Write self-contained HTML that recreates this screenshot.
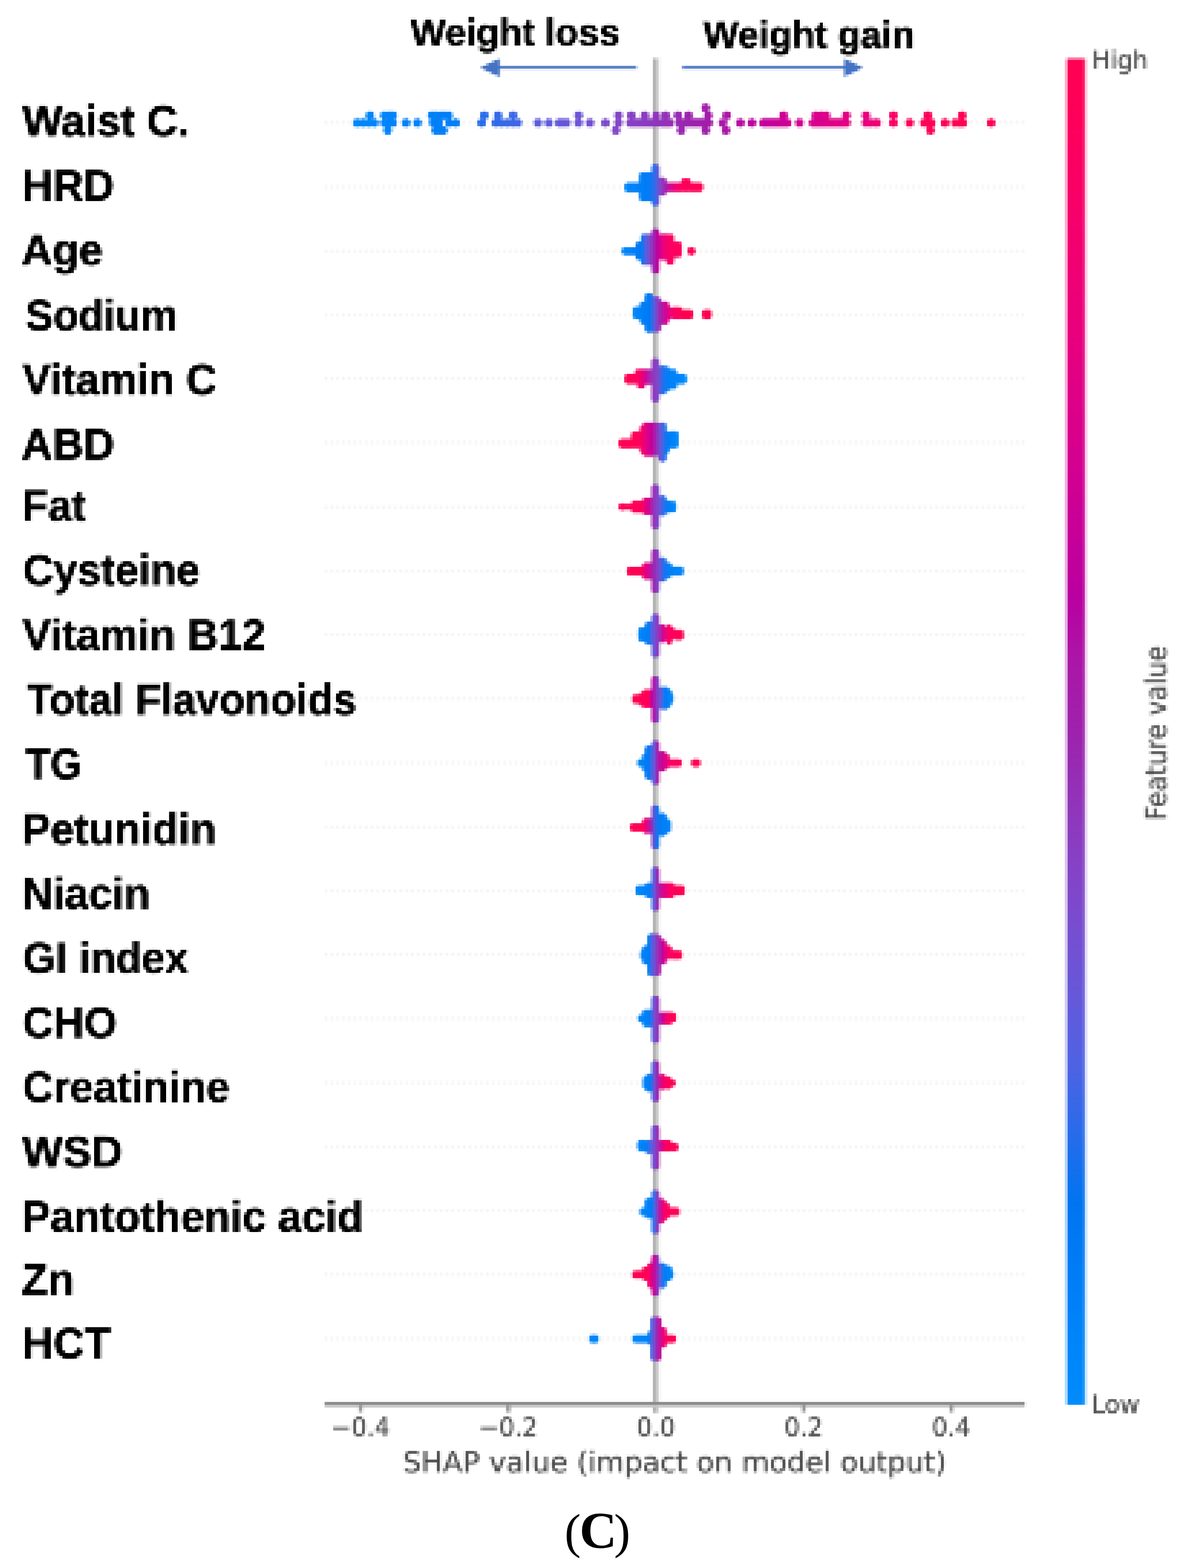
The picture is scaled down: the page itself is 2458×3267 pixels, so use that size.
<!DOCTYPE html>
<html lang="en"><head><meta charset="utf-8"><title>SHAP summary plot (C)</title>
<style>
html,body{margin:0;padding:0;background:#fff;}
body{width:2458px;height:3267px;overflow:hidden;}
svg{display:block;}
.lab{font-family:'Liberation Sans', sans-serif;font-weight:700;fill:#000;}
.mpl{font-family:'DejaVu Sans', 'Liberation Sans', sans-serif;fill:#4a4a4a;}
.cap{font-family:'Liberation Serif', serif;fill:#000;}
</style></head><body>
<svg width="2458" height="3267" viewBox="0 0 2458 3267">
<rect width="2458" height="3267" fill="#fff"/>
<defs><filter id="pxg" filterUnits="userSpaceOnUse" primitiveUnits="userSpaceOnUse" x="0" y="0" width="2458" height="3108" color-interpolation-filters="sRGB"><feGaussianBlur in="SourceGraphic" stdDeviation="1.7" result="b"/><feFlood x="6" y="7" width="2" height="2" flood-color="#000" result="dot"/><feComposite in="dot" in2="dot" operator="over" x="4" y="5" width="6" height="6" result="cell"/><feTile in="cell" result="grid"/><feComposite in="b" in2="grid" operator="in" result="samp"/><feMorphology in="samp" operator="dilate" radius="2"/></filter><filter id="pxm" filterUnits="userSpaceOnUse" primitiveUnits="userSpaceOnUse" x="0" y="0" width="2458" height="3108" color-interpolation-filters="sRGB"><feGaussianBlur in="SourceGraphic" stdDeviation="1.7" result="b"/><feFlood x="6" y="7" width="2" height="2" flood-color="#000" result="dot"/><feComposite in="dot" in2="dot" operator="over" x="4" y="5" width="6" height="6" result="cell"/><feTile in="cell" result="grid"/><feComposite in="b" in2="grid" operator="in" result="samp"/><feMorphology in="samp" operator="dilate" radius="2"/></filter><filter id="pxl" filterUnits="userSpaceOnUse" primitiveUnits="userSpaceOnUse" x="0" y="0" width="2458" height="3108" color-interpolation-filters="sRGB"><feGaussianBlur in="SourceGraphic" stdDeviation="1.0" result="b"/><feFlood x="6" y="7" width="2" height="2" flood-color="#000" result="dot"/><feComposite in="dot" in2="dot" operator="over" x="4" y="5" width="6" height="6" result="cell"/><feTile in="cell" result="grid"/><feComposite in="b" in2="grid" operator="in" result="samp"/><feMorphology in="samp" operator="dilate" radius="2"/></filter><linearGradient id="g1" gradientUnits="userSpaceOnUse" x1="1301.4" x2="1464.5" y1="0" y2="0"><stop offset="0.000" stop-color="#0086fa"/><stop offset="0.304" stop-color="#007cf5"/><stop offset="0.392" stop-color="#3968e7"/><stop offset="0.459" stop-color="#8542c5"/><stop offset="0.536" stop-color="#aa17a7"/><stop offset="0.624" stop-color="#e9007c"/><stop offset="0.735" stop-color="#fe005c"/><stop offset="1.000" stop-color="#ff0051"/></linearGradient><linearGradient id="g2" gradientUnits="userSpaceOnUse" x1="1295.1" x2="1448.3" y1="0" y2="0"><stop offset="0.000" stop-color="#0086fa"/><stop offset="0.271" stop-color="#0079f3"/><stop offset="0.341" stop-color="#6459da"/><stop offset="0.412" stop-color="#9233b9"/><stop offset="0.482" stop-color="#b900a0"/><stop offset="0.553" stop-color="#e50080"/><stop offset="0.647" stop-color="#fb0063"/><stop offset="1.000" stop-color="#ff0051"/></linearGradient><linearGradient id="g3" gradientUnits="userSpaceOnUse" x1="1318.5" x2="1482.6" y1="0" y2="0"><stop offset="0.000" stop-color="#0088fa"/><stop offset="0.220" stop-color="#0079f3"/><stop offset="0.286" stop-color="#764ed0"/><stop offset="0.352" stop-color="#a01fab"/><stop offset="0.429" stop-color="#d9008c"/><stop offset="0.516" stop-color="#f80067"/><stop offset="0.626" stop-color="#ff0051"/><stop offset="1.000" stop-color="#ff0051"/></linearGradient><linearGradient id="g4" gradientUnits="userSpaceOnUse" x1="1301.4" x2="1430.3" y1="0" y2="0"><stop offset="0.000" stop-color="#ff0051"/><stop offset="0.217" stop-color="#fe005c"/><stop offset="0.329" stop-color="#d40090"/><stop offset="0.441" stop-color="#9233b9"/><stop offset="0.538" stop-color="#8047c9"/><stop offset="0.608" stop-color="#266cea"/><stop offset="0.692" stop-color="#007ff7"/><stop offset="1.000" stop-color="#008bfb"/></linearGradient><linearGradient id="g5" gradientUnits="userSpaceOnUse" x1="1288.8" x2="1413.2" y1="0" y2="0"><stop offset="0.000" stop-color="#ff0051"/><stop offset="0.341" stop-color="#ff0058"/><stop offset="0.442" stop-color="#e9007c"/><stop offset="0.558" stop-color="#bf009d"/><stop offset="0.645" stop-color="#9233b9"/><stop offset="0.717" stop-color="#575fdf"/><stop offset="0.804" stop-color="#0079f3"/><stop offset="1.000" stop-color="#008bfb"/></linearGradient><linearGradient id="g6" gradientUnits="userSpaceOnUse" x1="1288.8" x2="1408.6" y1="0" y2="0"><stop offset="0.000" stop-color="#ff0051"/><stop offset="0.398" stop-color="#fe005c"/><stop offset="0.519" stop-color="#cf0093"/><stop offset="0.609" stop-color="#9233b9"/><stop offset="0.699" stop-color="#794cce"/><stop offset="0.759" stop-color="#3968e7"/><stop offset="0.850" stop-color="#007cf5"/><stop offset="1.000" stop-color="#008bfb"/></linearGradient><linearGradient id="g7" gradientUnits="userSpaceOnUse" x1="1305.9" x2="1424.0" y1="0" y2="0"><stop offset="0.000" stop-color="#ff0051"/><stop offset="0.244" stop-color="#ff0058"/><stop offset="0.351" stop-color="#df0086"/><stop offset="0.458" stop-color="#9d22ac"/><stop offset="0.565" stop-color="#8047c9"/><stop offset="0.641" stop-color="#266cea"/><stop offset="0.733" stop-color="#007ff7"/><stop offset="1.000" stop-color="#0088fa"/></linearGradient><linearGradient id="g8" gradientUnits="userSpaceOnUse" x1="1329.3" x2="1424.0" y1="0" y2="0"><stop offset="0.000" stop-color="#0088fa"/><stop offset="0.229" stop-color="#007cf5"/><stop offset="0.324" stop-color="#6459da"/><stop offset="0.457" stop-color="#9233b9"/><stop offset="0.552" stop-color="#d40090"/><stop offset="0.686" stop-color="#fe005c"/><stop offset="1.000" stop-color="#ff0051"/></linearGradient><linearGradient id="g9" gradientUnits="userSpaceOnUse" x1="1316.7" x2="1403.2" y1="0" y2="0"><stop offset="0.000" stop-color="#ff0051"/><stop offset="0.396" stop-color="#ff0058"/><stop offset="0.479" stop-color="#b900a0"/><stop offset="0.583" stop-color="#9233b9"/><stop offset="0.688" stop-color="#6459da"/><stop offset="0.792" stop-color="#007cf5"/><stop offset="1.000" stop-color="#0088fa"/></linearGradient><linearGradient id="g10" gradientUnits="userSpaceOnUse" x1="1327.5" x2="1459.1" y1="0" y2="0"><stop offset="0.000" stop-color="#0088fa"/><stop offset="0.178" stop-color="#0079f3"/><stop offset="0.260" stop-color="#6459da"/><stop offset="0.329" stop-color="#aa17a7"/><stop offset="0.425" stop-color="#d40090"/><stop offset="0.521" stop-color="#fb0063"/><stop offset="1.000" stop-color="#ff0051"/></linearGradient><linearGradient id="g11" gradientUnits="userSpaceOnUse" x1="1312.2" x2="1397.8" y1="0" y2="0"><stop offset="0.000" stop-color="#ff0051"/><stop offset="0.326" stop-color="#ff0058"/><stop offset="0.411" stop-color="#df0086"/><stop offset="0.516" stop-color="#9d22ac"/><stop offset="0.621" stop-color="#266cea"/><stop offset="0.747" stop-color="#007cf5"/><stop offset="1.000" stop-color="#0086fa"/></linearGradient><linearGradient id="g12" gradientUnits="userSpaceOnUse" x1="1323.9" x2="1426.7" y1="0" y2="0"><stop offset="0.000" stop-color="#0088fa"/><stop offset="0.298" stop-color="#007cf5"/><stop offset="0.368" stop-color="#6459da"/><stop offset="0.456" stop-color="#9d22ac"/><stop offset="0.579" stop-color="#df0086"/><stop offset="0.719" stop-color="#fe005c"/><stop offset="1.000" stop-color="#ff0051"/></linearGradient><linearGradient id="g13" gradientUnits="userSpaceOnUse" x1="1333.8" x2="1421.3" y1="0" y2="0"><stop offset="0.000" stop-color="#0086fa"/><stop offset="0.216" stop-color="#0079f3"/><stop offset="0.299" stop-color="#6459da"/><stop offset="0.402" stop-color="#9233b9"/><stop offset="0.546" stop-color="#c70098"/><stop offset="0.670" stop-color="#fb0063"/><stop offset="1.000" stop-color="#ff0051"/></linearGradient><linearGradient id="g14" gradientUnits="userSpaceOnUse" x1="1328.4" x2="1408.6" y1="0" y2="0"><stop offset="0.000" stop-color="#0088fa"/><stop offset="0.326" stop-color="#007cf5"/><stop offset="0.416" stop-color="#764ed0"/><stop offset="0.528" stop-color="#9233b9"/><stop offset="0.640" stop-color="#c70098"/><stop offset="0.798" stop-color="#fe005c"/><stop offset="1.000" stop-color="#ff0051"/></linearGradient><linearGradient id="g15" gradientUnits="userSpaceOnUse" x1="1339.2" x2="1406.8" y1="0" y2="0"><stop offset="0.000" stop-color="#0086fa"/><stop offset="0.253" stop-color="#0079f3"/><stop offset="0.333" stop-color="#764ed0"/><stop offset="0.467" stop-color="#9d22ac"/><stop offset="0.573" stop-color="#e9007c"/><stop offset="0.760" stop-color="#ff0058"/><stop offset="1.000" stop-color="#ff0051"/></linearGradient><linearGradient id="g16" gradientUnits="userSpaceOnUse" x1="1327.5" x2="1413.2" y1="0" y2="0"><stop offset="0.000" stop-color="#0088fa"/><stop offset="0.232" stop-color="#007cf5"/><stop offset="0.358" stop-color="#6459da"/><stop offset="0.484" stop-color="#9233b9"/><stop offset="0.589" stop-color="#d40090"/><stop offset="0.695" stop-color="#fe005c"/><stop offset="1.000" stop-color="#ff0051"/></linearGradient><linearGradient id="g17" gradientUnits="userSpaceOnUse" x1="1332.9" x2="1415.9" y1="0" y2="0"><stop offset="0.000" stop-color="#0088fa"/><stop offset="0.304" stop-color="#007cf5"/><stop offset="0.391" stop-color="#6459da"/><stop offset="0.478" stop-color="#9d22ac"/><stop offset="0.565" stop-color="#e9007c"/><stop offset="0.696" stop-color="#ff0058"/><stop offset="1.000" stop-color="#ff0051"/></linearGradient><linearGradient id="g18" gradientUnits="userSpaceOnUse" x1="1316.7" x2="1403.2" y1="0" y2="0"><stop offset="0.000" stop-color="#ff0051"/><stop offset="0.396" stop-color="#ff0058"/><stop offset="0.479" stop-color="#d40090"/><stop offset="0.583" stop-color="#aa17a7"/><stop offset="0.667" stop-color="#6459da"/><stop offset="0.771" stop-color="#007cf5"/><stop offset="1.000" stop-color="#0088fa"/></linearGradient><linearGradient id="g19" gradientUnits="userSpaceOnUse" x1="1226.9" x2="1247.4" y1="0" y2="0"><stop offset="0.000" stop-color="#0086fa"/><stop offset="1.000" stop-color="#0086fa"/></linearGradient><linearGradient id="g20" gradientUnits="userSpaceOnUse" x1="1317.1" x2="1408.4" y1="0" y2="0"><stop offset="0.000" stop-color="#0088fa"/><stop offset="0.382" stop-color="#007ff7"/><stop offset="0.487" stop-color="#764ed0"/><stop offset="0.592" stop-color="#aa17a7"/><stop offset="0.697" stop-color="#e9007c"/><stop offset="0.803" stop-color="#ff0058"/><stop offset="1.000" stop-color="#ff0051"/></linearGradient><linearGradient id="g21" gradientUnits="userSpaceOnUse" x1="736" x2="2072" y1="0" y2="0"><stop offset="0.0000" stop-color="#0086fa"/><stop offset="0.1602" stop-color="#007ef6"/><stop offset="0.1999" stop-color="#266cea"/><stop offset="0.2560" stop-color="#4066e6"/><stop offset="0.2874" stop-color="#5b5ddd"/><stop offset="0.3510" stop-color="#6c54d6"/><stop offset="0.4034" stop-color="#8047c9"/><stop offset="0.4521" stop-color="#8a3cc0"/><stop offset="0.5307" stop-color="#9d22ac"/><stop offset="0.5793" stop-color="#aa17a7"/><stop offset="0.6243" stop-color="#bf009d"/><stop offset="0.6766" stop-color="#cd0095"/><stop offset="0.7440" stop-color="#dd0088"/><stop offset="0.8076" stop-color="#e9007c"/><stop offset="0.8421" stop-color="#fb0063"/><stop offset="0.8713" stop-color="#ff0058"/><stop offset="1.0000" stop-color="#ff0051"/></linearGradient><linearGradient id="cb" x1="0" x2="0" y1="0" y2="1"><stop offset="0.000" stop-color="#ff0051"/><stop offset="0.050" stop-color="#fe005c"/><stop offset="0.100" stop-color="#f80067"/><stop offset="0.150" stop-color="#f10072"/><stop offset="0.200" stop-color="#e9007c"/><stop offset="0.250" stop-color="#df0086"/><stop offset="0.300" stop-color="#d40090"/><stop offset="0.350" stop-color="#c70098"/><stop offset="0.400" stop-color="#b900a0"/><stop offset="0.450" stop-color="#aa17a7"/><stop offset="0.500" stop-color="#9d22ac"/><stop offset="0.550" stop-color="#9233b9"/><stop offset="0.600" stop-color="#8542c5"/><stop offset="0.650" stop-color="#764ed0"/><stop offset="0.700" stop-color="#6459da"/><stop offset="0.750" stop-color="#4c63e3"/><stop offset="0.800" stop-color="#266cea"/><stop offset="0.850" stop-color="#0074f0"/><stop offset="0.900" stop-color="#007cf5"/><stop offset="0.950" stop-color="#0084f9"/><stop offset="1.000" stop-color="#008bfb"/></linearGradient></defs>
<g filter="url(#pxg)">
<line x1="677" x2="2135" y1="256.0" y2="256.0" stroke="#e4e4e4" stroke-width="6" stroke-dasharray="6 6" opacity="0.4"/>
<line x1="677" x2="2135" y1="389.3" y2="389.3" stroke="#e4e4e4" stroke-width="6" stroke-dasharray="6 6" opacity="0.4"/>
<line x1="677" x2="2135" y1="522.6" y2="522.6" stroke="#e4e4e4" stroke-width="6" stroke-dasharray="6 6" opacity="0.4"/>
<line x1="677" x2="2135" y1="656.0" y2="656.0" stroke="#e4e4e4" stroke-width="6" stroke-dasharray="6 6" opacity="0.4"/>
<line x1="677" x2="2135" y1="789.3" y2="789.3" stroke="#e4e4e4" stroke-width="6" stroke-dasharray="6 6" opacity="0.4"/>
<line x1="677" x2="2135" y1="922.6" y2="922.6" stroke="#e4e4e4" stroke-width="6" stroke-dasharray="6 6" opacity="0.4"/>
<line x1="677" x2="2135" y1="1055.9" y2="1055.9" stroke="#e4e4e4" stroke-width="6" stroke-dasharray="6 6" opacity="0.4"/>
<line x1="677" x2="2135" y1="1189.2" y2="1189.2" stroke="#e4e4e4" stroke-width="6" stroke-dasharray="6 6" opacity="0.4"/>
<line x1="677" x2="2135" y1="1322.6" y2="1322.6" stroke="#e4e4e4" stroke-width="6" stroke-dasharray="6 6" opacity="0.4"/>
<line x1="677" x2="2135" y1="1455.9" y2="1455.9" stroke="#e4e4e4" stroke-width="6" stroke-dasharray="6 6" opacity="0.4"/>
<line x1="677" x2="2135" y1="1589.2" y2="1589.2" stroke="#e4e4e4" stroke-width="6" stroke-dasharray="6 6" opacity="0.4"/>
<line x1="677" x2="2135" y1="1722.5" y2="1722.5" stroke="#e4e4e4" stroke-width="6" stroke-dasharray="6 6" opacity="0.4"/>
<line x1="677" x2="2135" y1="1855.8" y2="1855.8" stroke="#e4e4e4" stroke-width="6" stroke-dasharray="6 6" opacity="0.4"/>
<line x1="677" x2="2135" y1="1989.2" y2="1989.2" stroke="#e4e4e4" stroke-width="6" stroke-dasharray="6 6" opacity="0.4"/>
<line x1="677" x2="2135" y1="2122.5" y2="2122.5" stroke="#e4e4e4" stroke-width="6" stroke-dasharray="6 6" opacity="0.4"/>
<line x1="677" x2="2135" y1="2255.8" y2="2255.8" stroke="#e4e4e4" stroke-width="6" stroke-dasharray="6 6" opacity="0.4"/>
<line x1="677" x2="2135" y1="2389.1" y2="2389.1" stroke="#e4e4e4" stroke-width="6" stroke-dasharray="6 6" opacity="0.4"/>
<line x1="677" x2="2135" y1="2522.4" y2="2522.4" stroke="#e4e4e4" stroke-width="6" stroke-dasharray="6 6" opacity="0.4"/>
<line x1="677" x2="2135" y1="2655.8" y2="2655.8" stroke="#e4e4e4" stroke-width="6" stroke-dasharray="6 6" opacity="0.4"/>
<line x1="677" x2="2135" y1="2789.1" y2="2789.1" stroke="#e4e4e4" stroke-width="6" stroke-dasharray="6 6" opacity="0.4"/>
<rect x="1360" y="122" width="6" height="2821" fill="#b2b2b2"/>
<rect x="1366" y="122" width="5.5" height="2821" fill="#c9c9c9"/>
<rect x="1371.5" y="122" width="5" height="2821" fill="#f6f6f6"/>
<g fill="url(#g1)">
<rect x="1301.4" y="380.4" width="38.6" height="19.8" rx="7.0"/>
<rect x="1332.0" y="358.8" width="32.3" height="60.4" rx="7.0"/>
<rect x="1357.4" y="341.6" width="16.2" height="88.0" rx="7.0"/>
<rect x="1368.2" y="369.6" width="19.7" height="37.9" rx="7.0"/>
<rect x="1382.1" y="380.4" width="44.5" height="18.9" rx="7.0"/>
<rect x="1418.6" y="372.3" width="20.7" height="27.0" rx="7.0"/>
<rect x="1431.3" y="380.4" width="33.2" height="18.9" rx="7.0"/>
</g>
<g fill="url(#g2)">
<rect x="1295.1" y="515.6" width="34.3" height="15.3" rx="7.0"/>
<rect x="1323.9" y="503.9" width="18.8" height="37.9" rx="7.0"/>
<rect x="1334.7" y="487.7" width="29.6" height="64.9" rx="7.0"/>
<rect x="1357.4" y="475.9" width="16.2" height="94.6" rx="7.0"/>
<rect x="1368.2" y="487.7" width="27.7" height="54.1" rx="7.0"/>
<rect x="1387.9" y="487.7" width="16.2" height="64.0" rx="7.0"/>
<rect x="1396.1" y="503.9" width="24.2" height="32.4" rx="7.0"/>
<rect x="1432.1" y="515.6" width="16.2" height="15.3" rx="7.0"/>
</g>
<g fill="url(#g3)">
<rect x="1318.5" y="638.7" width="19.8" height="26.1" rx="7.0"/>
<rect x="1332.9" y="627.9" width="18.8" height="47.8" rx="7.0"/>
<rect x="1343.7" y="610.7" width="16.2" height="82.0" rx="7.0"/>
<rect x="1352.0" y="617.9" width="24.2" height="74.8" rx="7.0"/>
<rect x="1368.2" y="627.9" width="25.1" height="47.8" rx="7.0"/>
<rect x="1385.3" y="637.8" width="14.3" height="27.0" rx="7.0"/>
<rect x="1396.5" y="639.6" width="24.8" height="25.2" rx="7.0"/>
<rect x="1413.3" y="645.0" width="30.5" height="19.8" rx="7.0"/>
<rect x="1462.7" y="645.0" width="19.8" height="19.8" rx="7.0"/>
</g>
<g fill="url(#g4)">
<rect x="1301.4" y="779.3" width="28.7" height="20.7" rx="7.0"/>
<rect x="1322.1" y="769.4" width="40.4" height="31.5" rx="7.0"/>
<rect x="1327.5" y="800.0" width="16.2" height="9.0" rx="4.5"/>
<rect x="1357.4" y="745.9" width="16.2" height="92.8" rx="7.0"/>
<rect x="1368.2" y="762.2" width="19.7" height="59.5" rx="7.0"/>
<rect x="1382.1" y="763.1" width="12.2" height="53.2" rx="6.1"/>
<rect x="1391.1" y="769.4" width="19.4" height="41.5" rx="7.0"/>
<rect x="1402.4" y="779.3" width="27.8" height="20.7" rx="7.0"/>
</g>
<g fill="url(#g5)">
<rect x="1288.8" y="914.5" width="34.1" height="18.9" rx="7.0"/>
<rect x="1314.9" y="899.2" width="20.7" height="34.3" rx="7.0"/>
<rect x="1332.9" y="886.5" width="13.4" height="58.6" rx="6.7"/>
<rect x="1338.3" y="880.2" width="40.4" height="70.3" rx="7.0"/>
<rect x="1370.8" y="880.2" width="17.1" height="82.0" rx="7.0"/>
<rect x="1379.9" y="898.3" width="14.3" height="46.9" rx="7.0"/>
<rect x="1391.1" y="898.3" width="22.1" height="35.2" rx="7.0"/>
</g>
<g fill="url(#g6)">
<rect x="1288.8" y="1048.8" width="15.3" height="14.4" rx="7.0"/>
<rect x="1296.4" y="1050.6" width="26.5" height="11.7" rx="5.9"/>
<rect x="1314.9" y="1043.4" width="31.4" height="25.2" rx="7.0"/>
<rect x="1338.3" y="1037.1" width="26.0" height="35.2" rx="7.0"/>
<rect x="1357.4" y="1009.1" width="16.2" height="93.7" rx="7.0"/>
<rect x="1368.2" y="1032.6" width="19.7" height="42.4" rx="7.0"/>
<rect x="1382.1" y="1043.4" width="17.6" height="25.2" rx="7.0"/>
<rect x="1393.8" y="1044.3" width="14.9" height="23.4" rx="7.0"/>
</g>
<g fill="url(#g7)">
<rect x="1305.9" y="1181.3" width="40.4" height="18.0" rx="7.0"/>
<rect x="1338.3" y="1172.3" width="24.2" height="35.2" rx="7.0"/>
<rect x="1357.4" y="1143.4" width="16.2" height="92.8" rx="7.0"/>
<rect x="1368.2" y="1161.5" width="19.7" height="50.5" rx="7.0"/>
<rect x="1382.1" y="1172.3" width="17.6" height="31.5" rx="7.0"/>
<rect x="1393.8" y="1180.4" width="30.2" height="18.9" rx="7.0"/>
</g>
<g fill="url(#g8)">
<rect x="1329.3" y="1307.5" width="19.8" height="28.8" rx="7.0"/>
<rect x="1343.7" y="1295.8" width="18.8" height="47.8" rx="7.0"/>
<rect x="1357.4" y="1278.6" width="16.2" height="91.9" rx="7.0"/>
<rect x="1368.2" y="1301.2" width="19.7" height="37.9" rx="7.0"/>
<rect x="1387.9" y="1302.1" width="11.7" height="40.6" rx="5.9"/>
<rect x="1393.8" y="1306.6" width="11.3" height="27.0" rx="5.6"/>
<rect x="1402.3" y="1312.0" width="21.6" height="21.6" rx="7.0"/>
</g>
<g fill="url(#g9)">
<rect x="1316.7" y="1447.2" width="18.5" height="18.9" rx="7.0"/>
<rect x="1332.0" y="1441.8" width="14.3" height="30.6" rx="7.0"/>
<rect x="1338.3" y="1436.4" width="24.2" height="37.9" rx="7.0"/>
<rect x="1357.4" y="1408.4" width="16.2" height="98.3" rx="7.0"/>
<rect x="1368.2" y="1431.0" width="26.0" height="46.9" rx="7.0"/>
<rect x="1386.2" y="1436.4" width="13.4" height="36.1" rx="6.7"/>
<rect x="1396.9" y="1447.2" width="6.3" height="14.4" rx="3.2"/>
</g>
<g fill="url(#g10)">
<rect x="1327.5" y="1581.5" width="13.5" height="16.2" rx="6.8"/>
<rect x="1338.3" y="1570.7" width="10.8" height="36.1" rx="5.4"/>
<rect x="1343.7" y="1553.6" width="18.8" height="70.3" rx="7.0"/>
<rect x="1357.4" y="1542.7" width="16.2" height="92.8" rx="7.0"/>
<rect x="1368.2" y="1565.3" width="19.7" height="41.5" rx="7.0"/>
<rect x="1382.1" y="1570.7" width="12.2" height="30.6" rx="6.1"/>
<rect x="1391.1" y="1581.5" width="29.3" height="16.2" rx="7.0"/>
<rect x="1440.2" y="1581.5" width="18.9" height="16.2" rx="7.0"/>
</g>
<g fill="url(#g11)">
<rect x="1312.2" y="1715.8" width="34.1" height="16.2" rx="7.0"/>
<rect x="1338.3" y="1705.0" width="24.2" height="31.5" rx="7.0"/>
<rect x="1357.4" y="1677.0" width="16.2" height="92.8" rx="7.0"/>
<rect x="1368.2" y="1694.2" width="19.7" height="47.8" rx="7.0"/>
<rect x="1382.1" y="1705.0" width="12.2" height="31.5" rx="6.1"/>
<rect x="1391.1" y="1710.4" width="6.8" height="21.6" rx="3.4"/>
</g>
<g fill="url(#g12)">
<rect x="1323.9" y="1844.7" width="25.2" height="20.7" rx="7.0"/>
<rect x="1343.7" y="1839.3" width="18.8" height="31.5" rx="7.0"/>
<rect x="1357.4" y="1805.9" width="16.2" height="92.8" rx="7.0"/>
<rect x="1368.2" y="1839.3" width="36.8" height="31.5" rx="7.0"/>
<rect x="1397.0" y="1844.7" width="29.6" height="20.7" rx="7.0"/>
</g>
<g fill="url(#g13)">
<rect x="1333.8" y="1980.8" width="9.9" height="18.0" rx="5.0"/>
<rect x="1338.3" y="1970.0" width="18.8" height="39.7" rx="7.0"/>
<rect x="1349.2" y="1945.6" width="27.0" height="88.3" rx="7.0"/>
<rect x="1368.2" y="1957.4" width="19.7" height="52.3" rx="7.0"/>
<rect x="1382.1" y="1970.0" width="17.6" height="28.8" rx="7.0"/>
<rect x="1393.8" y="1980.8" width="27.5" height="18.0" rx="7.0"/>
</g>
<g fill="url(#g14)">
<rect x="1328.4" y="2114.2" width="17.9" height="15.3" rx="7.0"/>
<rect x="1338.3" y="2103.4" width="24.2" height="36.1" rx="7.0"/>
<rect x="1357.4" y="2074.5" width="16.2" height="99.2" rx="7.0"/>
<rect x="1368.2" y="2108.8" width="36.8" height="21.6" rx="7.0"/>
<rect x="1368.2" y="2130.4" width="31.4" height="4.5" rx="2.3"/>
<rect x="1397.0" y="2109.7" width="11.6" height="19.8" rx="5.8"/>
</g>
<g fill="url(#g15)">
<rect x="1339.2" y="2244.0" width="9.9" height="24.3" rx="5.0"/>
<rect x="1343.7" y="2238.6" width="18.8" height="36.1" rx="7.0"/>
<rect x="1357.4" y="2209.7" width="16.2" height="86.5" rx="7.0"/>
<rect x="1368.2" y="2238.6" width="19.7" height="31.5" rx="7.0"/>
<rect x="1382.1" y="2244.0" width="17.6" height="25.2" rx="7.0"/>
<rect x="1393.8" y="2249.4" width="13.1" height="14.4" rx="6.5"/>
</g>
<g fill="url(#g16)">
<rect x="1327.5" y="2375.6" width="21.6" height="22.5" rx="7.0"/>
<rect x="1343.7" y="2375.6" width="18.8" height="27.9" rx="7.0"/>
<rect x="1357.4" y="2344.1" width="16.2" height="93.7" rx="7.0"/>
<rect x="1368.2" y="2375.6" width="31.4" height="23.4" rx="7.0"/>
<rect x="1391.6" y="2381.9" width="21.5" height="16.2" rx="7.0"/>
</g>
<g fill="url(#g17)">
<rect x="1332.9" y="2516.2" width="16.2" height="17.1" rx="7.0"/>
<rect x="1343.7" y="2496.4" width="18.8" height="42.4" rx="7.0"/>
<rect x="1357.4" y="2479.3" width="16.2" height="91.9" rx="7.0"/>
<rect x="1368.2" y="2496.4" width="15.2" height="53.2" rx="7.0"/>
<rect x="1379.8" y="2501.8" width="8.1" height="42.4" rx="4.1"/>
<rect x="1385.7" y="2507.2" width="8.6" height="31.5" rx="4.3"/>
<rect x="1391.1" y="2516.2" width="24.8" height="17.1" rx="7.0"/>
</g>
<g fill="url(#g18)">
<rect x="1316.7" y="2647.8" width="27.0" height="16.2" rx="7.0"/>
<rect x="1338.3" y="2638.8" width="13.5" height="29.7" rx="6.8"/>
<rect x="1349.2" y="2630.7" width="13.4" height="53.2" rx="6.7"/>
<rect x="1357.4" y="2613.6" width="16.2" height="87.4" rx="7.0"/>
<rect x="1368.2" y="2631.6" width="19.7" height="52.3" rx="7.0"/>
<rect x="1382.1" y="2637.0" width="17.6" height="31.5" rx="7.0"/>
<rect x="1393.8" y="2647.8" width="9.5" height="14.4" rx="4.7"/>
</g>
<g fill="url(#g19)">
<rect x="1226.9" y="2781.2" width="20.4" height="16.8" rx="7.0"/>
</g>
<g fill="url(#g20)">
<rect x="1317.1" y="2781.2" width="35.5" height="16.8" rx="7.0"/>
<rect x="1349.5" y="2772.1" width="14.0" height="31.2" rx="7.0"/>
<rect x="1355.5" y="2743.3" width="21.6" height="92.5" rx="7.0"/>
<rect x="1369.2" y="2764.9" width="18.8" height="43.3" rx="7.0"/>
<rect x="1382.6" y="2781.2" width="25.8" height="16.8" rx="7.0"/>
</g>
<g fill="url(#g21)">
<circle cx="743.8" cy="256.0" r="8.7"/>
<circle cx="755.7" cy="256.0" r="8.7"/>
<circle cx="767.6" cy="256.0" r="8.7"/>
<circle cx="779.5" cy="256.0" r="8.7"/>
<circle cx="770.8" cy="240.5" r="8.7"/>
<circle cx="801.0" cy="240.5" r="8.7"/>
<circle cx="810.0" cy="240.5" r="8.7"/>
<circle cx="818.4" cy="240.5" r="8.7"/>
<circle cx="801.0" cy="256.0" r="8.7"/>
<circle cx="811.0" cy="256.0" r="8.7"/>
<circle cx="818.4" cy="256.0" r="8.7"/>
<circle cx="807.6" cy="271.5" r="8.7"/>
<circle cx="845.5" cy="256.0" r="8.7"/>
<circle cx="869.3" cy="256.0" r="8.7"/>
<circle cx="899.6" cy="240.5" r="8.7"/>
<circle cx="908.0" cy="240.5" r="8.7"/>
<circle cx="916.9" cy="240.5" r="8.7"/>
<circle cx="926.0" cy="240.5" r="8.7"/>
<circle cx="934.2" cy="240.5" r="8.7"/>
<circle cx="902.8" cy="256.0" r="8.7"/>
<circle cx="914.7" cy="256.0" r="8.7"/>
<circle cx="936.4" cy="256.0" r="8.7"/>
<circle cx="949.3" cy="256.0" r="8.7"/>
<circle cx="908.0" cy="271.5" r="8.7"/>
<circle cx="916.0" cy="271.5" r="8.7"/>
<circle cx="923.4" cy="271.5" r="8.7"/>
<circle cx="1008.8" cy="240.5" r="8.7"/>
<circle cx="1003.4" cy="256.0" r="8.7"/>
<circle cx="1037.3" cy="240.5" r="8.7"/>
<circle cx="1068.7" cy="240.5" r="8.7"/>
<circle cx="1033.0" cy="256.0" r="8.7"/>
<circle cx="1043.8" cy="256.0" r="8.7"/>
<circle cx="1055.7" cy="256.0" r="8.7"/>
<circle cx="1067.6" cy="256.0" r="8.7"/>
<circle cx="1078.4" cy="256.0" r="8.7"/>
<circle cx="1120.6" cy="256.0" r="8.7"/>
<circle cx="1143.3" cy="256.0" r="8.7"/>
<circle cx="1165.0" cy="256.0" r="8.7"/>
<circle cx="1173.0" cy="256.0" r="8.7"/>
<circle cx="1180.0" cy="256.0" r="8.7"/>
<circle cx="1205.0" cy="240.5" r="8.7"/>
<circle cx="1205.0" cy="256.0" r="8.7"/>
<circle cx="1228.8" cy="256.0" r="8.7"/>
<circle cx="1261.2" cy="256.0" r="8.7"/>
<circle cx="1288.3" cy="240.5" r="8.7"/>
<circle cx="1288.3" cy="256.0" r="8.7"/>
<circle cx="1282.9" cy="271.5" r="8.7"/>
<circle cx="1315.0" cy="240.5" r="8.7"/>
<circle cx="1343.0" cy="240.5" r="8.7"/>
<circle cx="1367.0" cy="240.5" r="8.7"/>
<circle cx="1386.5" cy="240.5" r="8.7"/>
<circle cx="1412.5" cy="240.5" r="8.7"/>
<circle cx="1434.0" cy="240.5" r="8.7"/>
<circle cx="1419.0" cy="271.5" r="8.7"/>
<circle cx="1469.8" cy="225.0" r="8.7"/>
<circle cx="1475.0" cy="240.5" r="8.7"/>
<circle cx="1469.8" cy="271.5" r="8.7"/>
<circle cx="1514.0" cy="240.5" r="8.7"/>
<circle cx="1505.5" cy="256.0" r="8.7"/>
<circle cx="1512.0" cy="271.5" r="8.7"/>
<circle cx="1542.0" cy="256.0" r="8.7"/>
<circle cx="1566.0" cy="256.0" r="8.7"/>
<circle cx="1632.0" cy="240.5" r="8.7"/>
<circle cx="1665.4" cy="256.0" r="8.7"/>
<circle cx="1700.0" cy="240.5" r="8.7"/>
<circle cx="1711.0" cy="240.5" r="8.7"/>
<circle cx="1720.6" cy="240.5" r="8.7"/>
<circle cx="1762.8" cy="240.5" r="8.7"/>
<circle cx="1804.0" cy="240.5" r="8.7"/>
<circle cx="1804.0" cy="256.0" r="8.7"/>
<circle cx="1815.0" cy="256.0" r="8.7"/>
<circle cx="1826.6" cy="256.0" r="8.7"/>
<circle cx="1861.0" cy="240.5" r="8.7"/>
<circle cx="1861.0" cy="256.0" r="8.7"/>
<circle cx="1894.8" cy="256.0" r="8.7"/>
<circle cx="1932.6" cy="240.5" r="8.7"/>
<circle cx="1925.0" cy="256.0" r="8.7"/>
<circle cx="1933.7" cy="256.0" r="8.7"/>
<circle cx="1940.0" cy="256.0" r="8.7"/>
<circle cx="1938.0" cy="271.5" r="8.7"/>
<circle cx="1968.3" cy="256.0" r="8.7"/>
<circle cx="2003.9" cy="240.5" r="8.7"/>
<circle cx="1989.8" cy="256.0" r="8.7"/>
<circle cx="1999.5" cy="256.0" r="8.7"/>
<circle cx="2006.0" cy="256.0" r="8.7"/>
<circle cx="2064.4" cy="256.0" r="8.7"/>
<rect x="1304.3" y="247.3" width="100.4" height="17.4" rx="8.7"/>
<rect x="1407.3" y="247.3" width="77.4" height="17.4" rx="8.7"/>
<rect x="1581.3" y="247.3" width="67.4" height="17.4" rx="8.7"/>
<rect x="1685.3" y="247.3" width="86.4" height="17.4" rx="8.7"/>
</g>
<rect x="677" y="2921" width="1458" height="6" fill="#8a8a8a"/>
<rect x="677" y="2927" width="1458" height="4.5" fill="#c6c6c6"/>
<rect x="747.1" y="2927" width="8" height="15" fill="#9a9a9a"/>
<rect x="1054.8" y="2927" width="8" height="15" fill="#9a9a9a"/>
<rect x="1670.2" y="2927" width="8" height="15" fill="#9a9a9a"/>
<rect x="1977.9" y="2927" width="8" height="15" fill="#9a9a9a"/>
<rect x="2218" y="122.5" width="45" height="2804" fill="url(#cb)" opacity="0.3"/>
<rect x="2224" y="122.5" width="34" height="2804" fill="url(#cb)"/>
<rect x="1030" y="138.6" width="296" height="5" fill="#4472c4"/>
<polygon points="1001,141 1040,122.5 1040,159.5" fill="#4472c4"/>
<rect x="1422" y="138.6" width="345" height="5" fill="#4472c4"/>
<polygon points="1797,141 1759,122.5 1759,159.5" fill="#4472c4"/>
</g>
<g filter="url(#pxm)">
<text class="mpl" transform="translate(751.1 2992.0) scale(0.9650 1)" font-size="52.5" text-anchor="middle">−0.4</text>
<text class="mpl" transform="translate(1058.8 2992.0) scale(0.9650 1)" font-size="52.5" text-anchor="middle">−0.2</text>
<text class="mpl" transform="translate(1366.5 2992.0) scale(0.9650 1)" font-size="52.5" text-anchor="middle">0.0</text>
<text class="mpl" transform="translate(1674.2 2992.0) scale(0.9650 1)" font-size="52.5" text-anchor="middle">0.2</text>
<text class="mpl" transform="translate(1981.9 2992.0) scale(0.9650 1)" font-size="52.5" text-anchor="middle">0.4</text>
<text class="mpl" transform="translate(1405.5 3067.0) scale(1.0260 1)" font-size="58.5" text-anchor="middle">SHAP value (impact on model output)</text>
<text class="mpl" x="2275.0" y="143.0" font-size="50.8">High</text>
<text class="mpl" x="2274.0" y="2943.6" font-size="50.8">Low</text>
<text class="mpl" transform="translate(2429.0 1527.5) rotate(-90) scale(0.97 1.09)" font-size="55.0" text-anchor="middle">Feature value</text>
</g>
<g filter="url(#pxl)" stroke="#000" stroke-width="0.3" stroke-linejoin="round">
<text class="lab" x="855.00" y="93.50" font-size="78.00">Weight loss</text>
<text class="lab" x="1465.00" y="98.70" font-size="78.00">Weight gain</text>
<text class="lab" transform="translate(46.50 283.30) scale(0.9729 1)" font-size="91.70">Waist C.</text>
<text class="lab" transform="translate(46.00 417.50) scale(0.9668 1)" font-size="91.70">HRD</text>
<text class="lab" transform="translate(44.50 551.90) scale(0.9807 1)" font-size="91.70">Age</text>
<text class="lab" transform="translate(53.50 687.50) scale(0.9401 1)" font-size="91.70">Sodium</text>
<text class="lab" transform="translate(47.00 821.90) scale(0.9591 1)" font-size="91.70">Vitamin C</text>
<text class="lab" transform="translate(44.50 956.50) scale(0.9771 1)" font-size="91.70">ABD</text>
<text class="lab" transform="translate(46.00 1084.50) scale(0.9691 1)" font-size="91.70">Fat</text>
<text class="lab" transform="translate(48.00 1218.50) scale(0.9642 1)" font-size="91.70">Cysteine</text>
<text class="lab" transform="translate(47.00 1353.50) scale(0.9673 1)" font-size="91.70">Vitamin B12</text>
<text class="lab" transform="translate(56.00 1488.50) scale(0.9517 1)" font-size="91.70">Total Flavonoids</text>
<text class="lab" transform="translate(53.50 1623.20) scale(0.9134 1)" font-size="91.70">TG</text>
<text class="lab" transform="translate(45.75 1758.50) scale(0.9701 1)" font-size="91.70">Petunidin</text>
<text class="lab" transform="translate(45.75 1893.20) scale(0.9710 1)" font-size="91.70">Niacin</text>
<text class="lab" transform="translate(47.50 2026.90) scale(0.9531 1)" font-size="91.70">GI index</text>
<text class="lab" transform="translate(47.25 2162.25) scale(0.9651 1)" font-size="91.70">CHO</text>
<text class="lab" transform="translate(47.50 2295.90) scale(0.9615 1)" font-size="91.70">Creatinine</text>
<text class="lab" transform="translate(46.50 2431.30) scale(0.9759 1)" font-size="91.70">WSD</text>
<text class="lab" transform="translate(45.50 2565.90) scale(0.9698 1)" font-size="91.70">Pantothenic acid</text>
<text class="lab" transform="translate(45.00 2696.50) scale(0.9807 1)" font-size="91.70">Zn</text>
<text class="lab" transform="translate(46.00 2829.50) scale(0.9807 1)" font-size="91.70">HCT</text>
</g>
<text class="cap" y="3225.0" font-size="102.0"><tspan x="1176.0">(</tspan><tspan x="1207.0" font-weight="700" font-size="108.0">C</tspan><tspan x="1279.0">)</tspan></text>
</svg></body></html>
